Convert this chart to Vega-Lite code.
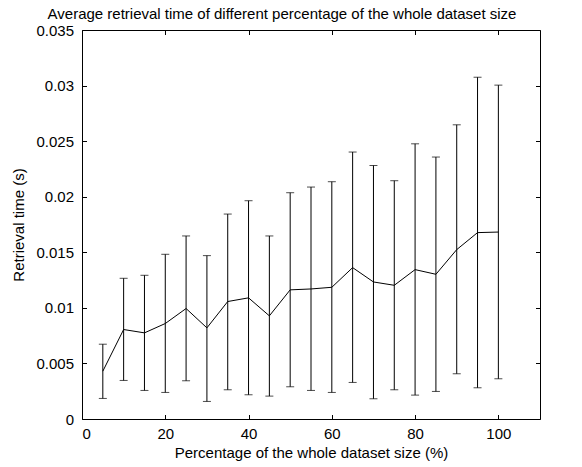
{
  "$schema": "https://vega.github.io/schema/vega-lite/v6.json",
  "width": 458,
  "height": 389,
  "autosize": {"type": "none"},
  "padding": {"left": 82, "top": 30, "right": 42, "bottom": 48},
  "background": "white",
  "title": {
    "text": "Average retrieval time of different percentage of the whole dataset size",
    "font": "Liberation Sans",
    "fontSize": 15,
    "fontWeight": "normal",
    "color": "black",
    "anchor": "middle",
    "frame": "group",
    "offset": 1,
    "dx": -29
  },
  "config": {
    "view": {"stroke": "black", "strokeWidth": 1},
    "axis": {
      "labelFont": "Liberation Sans",
      "titleFont": "Liberation Sans",
      "labelFontSize": 15,
      "titleFontSize": 15,
      "titleFontWeight": "normal",
      "labelColor": "black",
      "titleColor": "black",
      "tickColor": "black",
      "domain": false,
      "grid": false,
      "tickSize": -4.5,
      "tickWidth": 1
    }
  },
  "data": {
    "values": [
      {"pct": 5, "mean": 0.0043, "low": 0.00185, "high": 0.00673},
      {"pct": 10, "mean": 0.00805, "low": 0.00347, "high": 0.01266},
      {"pct": 15, "mean": 0.00775, "low": 0.00257, "high": 0.01293},
      {"pct": 20, "mean": 0.00859, "low": 0.00239, "high": 0.01482},
      {"pct": 25, "mean": 0.00994, "low": 0.00344, "high": 0.01647},
      {"pct": 30, "mean": 0.0082, "low": 0.00158, "high": 0.0147},
      {"pct": 35, "mean": 0.01057, "low": 0.00263, "high": 0.01844},
      {"pct": 40, "mean": 0.0109, "low": 0.00218, "high": 0.01964},
      {"pct": 45, "mean": 0.00928, "low": 0.00206, "high": 0.01647},
      {"pct": 50, "mean": 0.01162, "low": 0.0029, "high": 0.02036},
      {"pct": 55, "mean": 0.0117, "low": 0.00257, "high": 0.02087},
      {"pct": 60, "mean": 0.01185, "low": 0.00239, "high": 0.02135},
      {"pct": 65, "mean": 0.01362, "low": 0.00329, "high": 0.02402},
      {"pct": 70, "mean": 0.01233, "low": 0.00182, "high": 0.02281},
      {"pct": 75, "mean": 0.01203, "low": 0.00263, "high": 0.02144},
      {"pct": 80, "mean": 0.01344, "low": 0.00215, "high": 0.02476},
      {"pct": 85, "mean": 0.01302, "low": 0.00248, "high": 0.02357},
      {"pct": 90, "mean": 0.01524, "low": 0.00407, "high": 0.02647},
      {"pct": 95, "mean": 0.01677, "low": 0.00281, "high": 0.03075},
      {"pct": 100, "mean": 0.01682, "low": 0.00362, "high": 0.03004}
    ]
  },
  "resolve": {"axis": {"x": "independent", "y": "independent"}},
  "layer": [
    {
      "mark": {"type": "rule", "color": "black", "strokeWidth": 1},
      "encoding": {
        "x": {
          "field": "pct", "type": "quantitative",
          "scale": {"domain": [0, 110], "nice": false},
          "axis": {"orient": "bottom", "values": [0, 20, 40, 60, 80, 100], "title": "Percentage of the whole dataset size (%)", "labelPadding": 12, "titlePadding": 4}
        },
        "y": {
          "field": "low", "type": "quantitative",
          "scale": {"domain": [0, 0.035], "nice": false},
          "axis": {"orient": "left", "values": [0, 0.005, 0.01, 0.015, 0.02, 0.025, 0.03, 0.035], "format": "~g", "title": "Retrieval time (s)", "labelPadding": 13, "titlePadding": 9}
        },
        "y2": {"field": "high"}
      }
    },
    {
      "mark": {"type": "tick", "orient": "horizontal", "color": "black", "size": 8, "thickness": 1},
      "encoding": {
        "x": {"field": "pct", "type": "quantitative", "axis": null},
        "y": {"field": "low", "type": "quantitative", "axis": null}
      }
    },
    {
      "mark": {"type": "tick", "orient": "horizontal", "color": "black", "size": 8, "thickness": 1},
      "encoding": {
        "x": {"field": "pct", "type": "quantitative", "axis": null},
        "y": {"field": "high", "type": "quantitative", "axis": null}
      }
    },
    {
      "mark": {"type": "line", "color": "black", "strokeWidth": 1},
      "encoding": {
        "x": {"field": "pct", "type": "quantitative", "axis": {"orient": "top", "values": [0, 20, 40, 60, 80, 100], "labels": false, "title": null}},
        "y": {"field": "mean", "type": "quantitative", "axis": {"orient": "right", "values": [0, 0.005, 0.01, 0.015, 0.02, 0.025, 0.03, 0.035], "labels": false, "title": null}}
      }
    }
  ]
}
